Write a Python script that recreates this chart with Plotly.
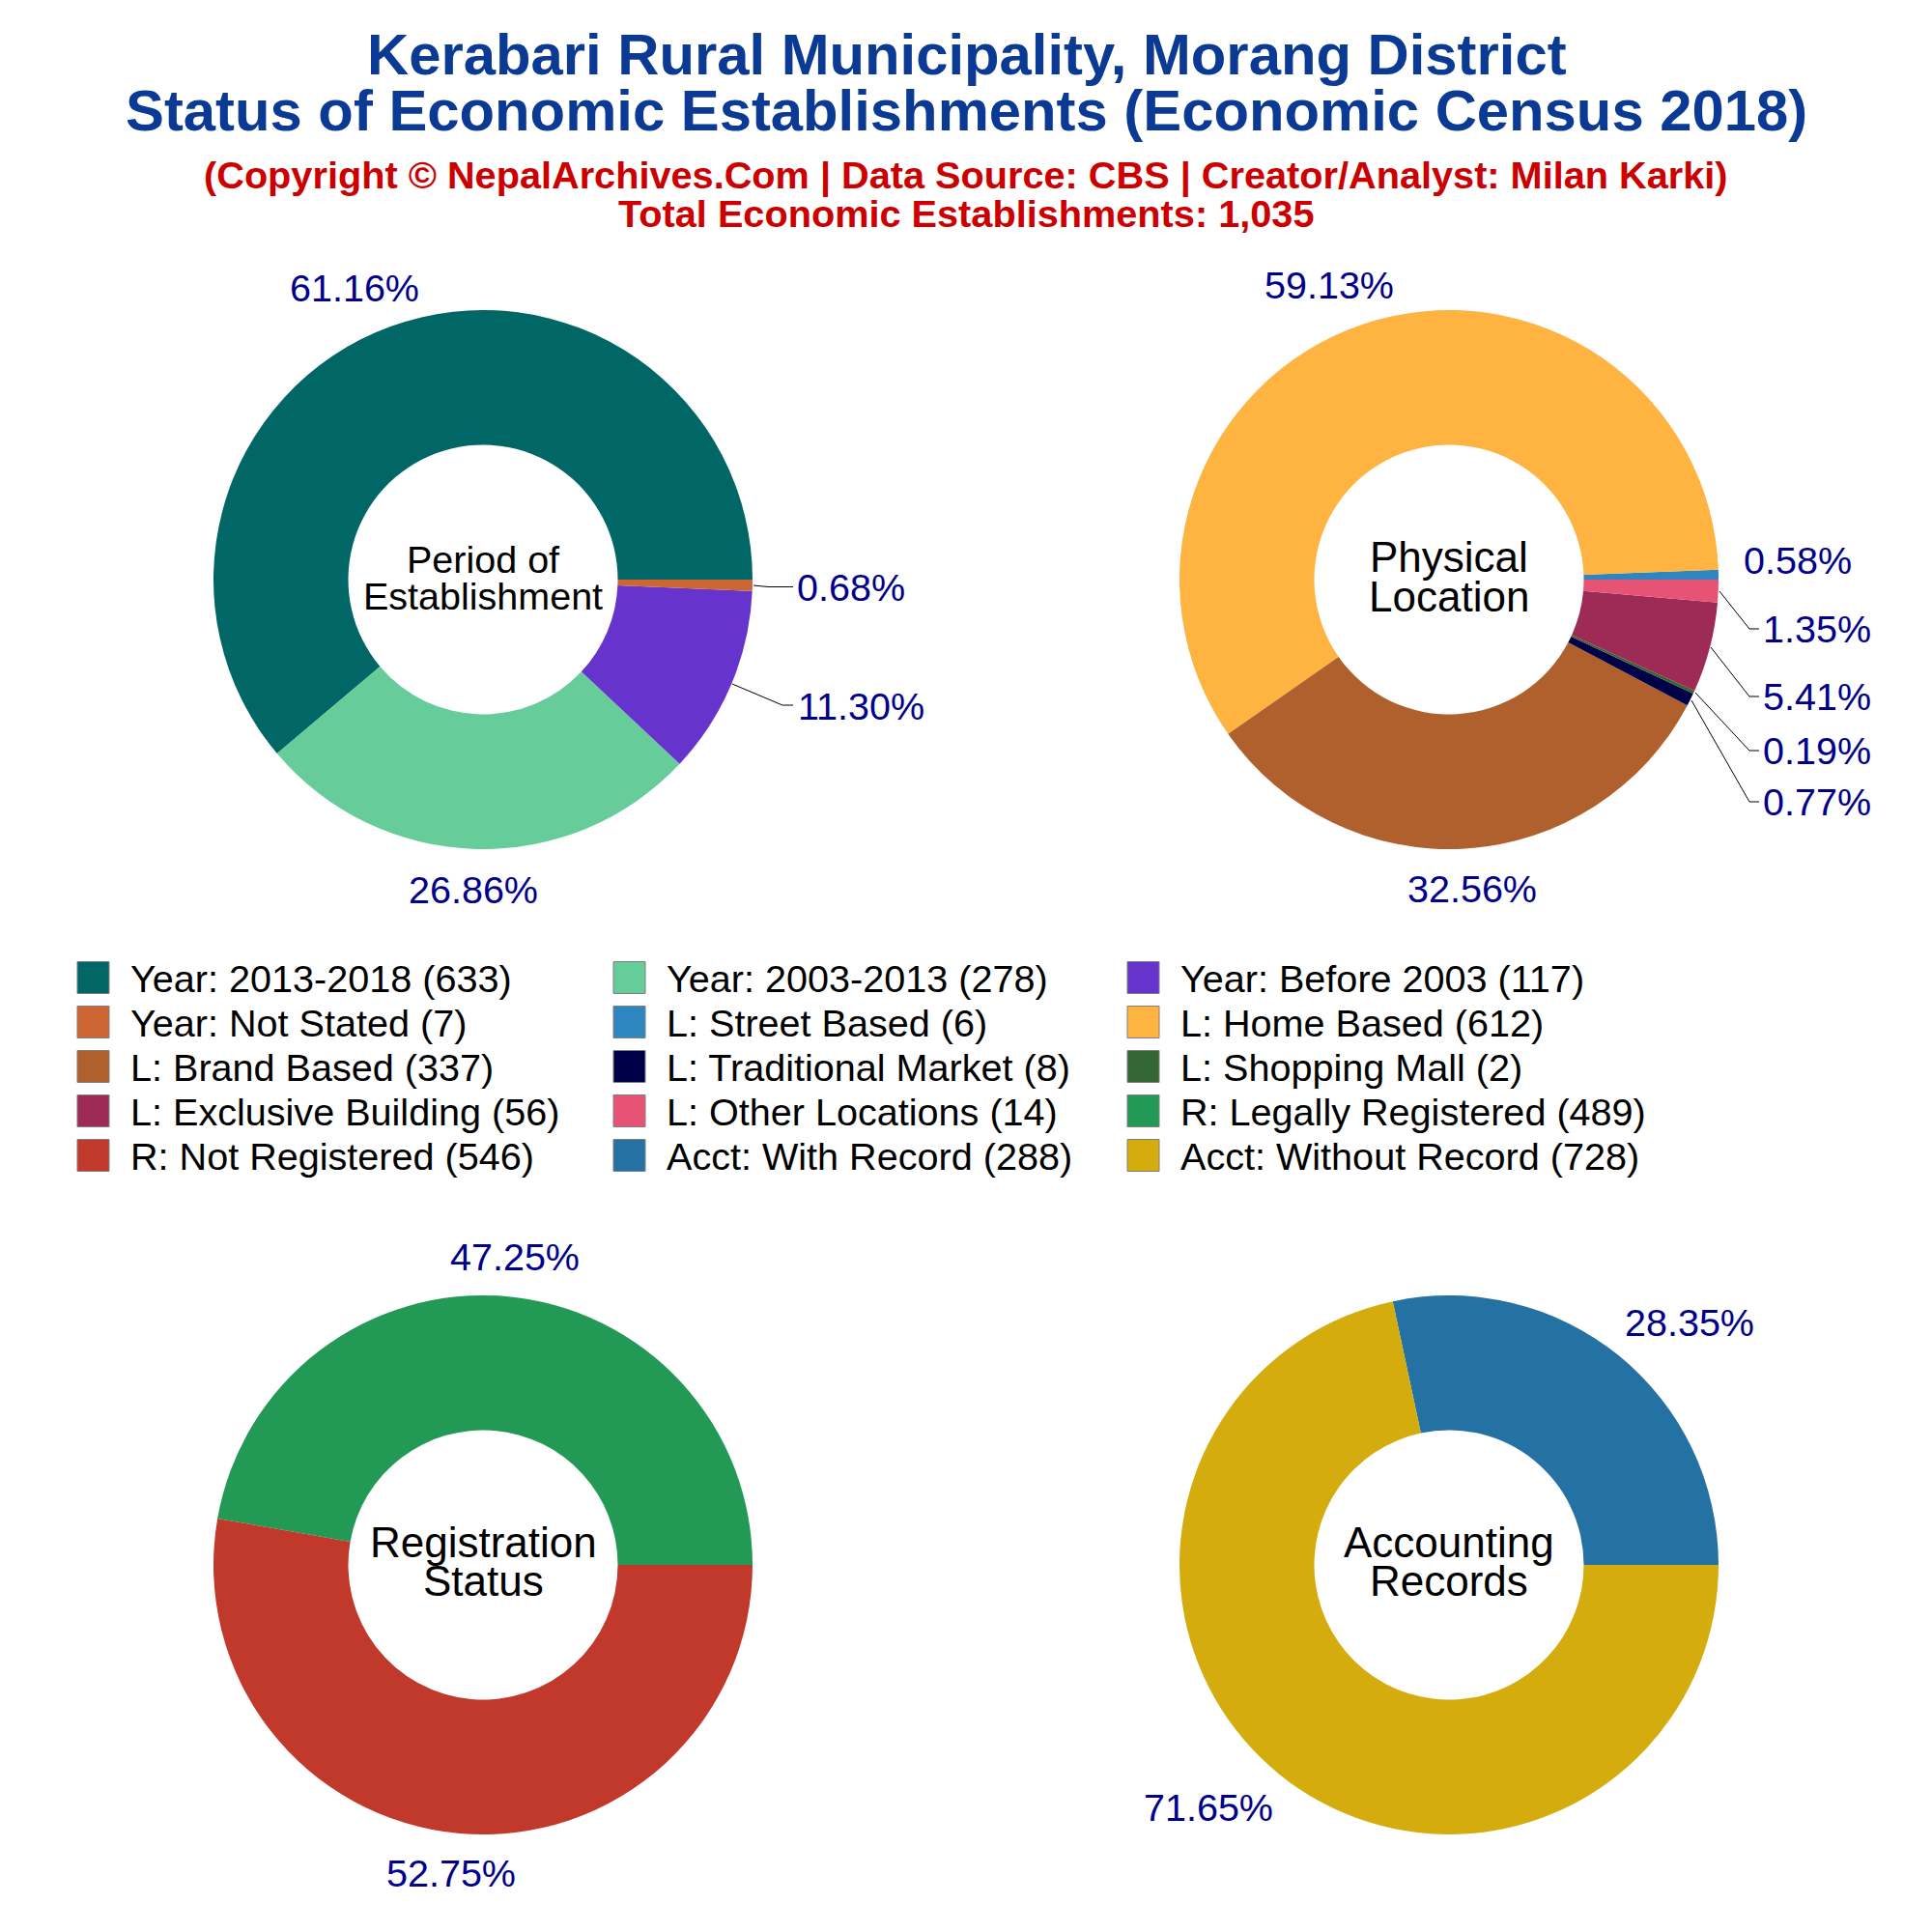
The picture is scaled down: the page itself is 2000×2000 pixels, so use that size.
import plotly.graph_objects as go

title_lines = ["Kerabari Rural Municipality, Morang District",
               "Status of Economic Establishments (Economic Census 2018)"]
sub_lines = ["(Copyright © NepalArchives.Com | Data Source: CBS | Creator/Analyst: Milan Karki)",
             "Total Economic Establishments: 1,035"]

period_labels = ["Year: 2013-2018", "Year: 2003-2013", "Year: Before 2003", "Year: Not Stated"]
period_values = [633, 278, 117, 7]
period_colors = ["#006666", "#66CC99", "#6633CC", "#CC6633"]

location_labels = ["L: Street Based", "L: Home Based", "L: Brand Based", "L: Traditional Market",
                   "L: Shopping Mall", "L: Exclusive Building", "L: Other Locations"]
location_values = [6, 612, 337, 8, 2, 56, 14]
location_colors = ["#2E86C1", "#FFB340", "#B0602C", "#000048", "#336633", "#9E2A56", "#E75374"]

registration_labels = ["R: Legally Registered", "R: Not Registered"]
registration_values = [489, 546]
registration_colors = ["#229955", "#C0392B"]

account_labels = ["Acct: With Record", "Acct: Without Record"]
account_values = [288, 728]
account_colors = ["#2471A3", "#D4AC0D"]

W = H = 2000
R = 279
def X(p): return p / W
def Y(p): return 1 - p / H

fig = go.Figure()
centres = [(500, 600), (1500, 600), (500, 1620), (1500, 1620)]
groups = [(period_labels, period_values, period_colors),
          (location_labels, location_values, location_colors),
          (registration_labels, registration_values, registration_colors),
          (account_labels, account_values, account_colors)]
for (cx, cy), (lab, val, col) in zip(centres, groups):
    # Plotly lays the first slice clockwise of the start angle when running counterclockwise,
    # so turn the pie back by that slice to start it at 3 o'clock.
    fig.add_trace(go.Pie(labels=lab, values=val, hole=0.5, sort=False, direction="counterclockwise",
                         rotation=90 - 360 * val[0] / sum(val),
                         marker=dict(colors=col, line=dict(width=0)),
                         textinfo="none", showlegend=False,
                         domain=dict(x=[X(cx - R), X(cx + R)], y=[Y(cy + R), Y(cy - R)])))

ann = []
def text(x, y, s, size, color="black", bold=False, anchor="center"):
    ann.append(dict(x=X(x), y=Y(y), xref="paper", yref="paper", text=f"<b>{s}</b>" if bold else s,
                    showarrow=False, xanchor=anchor, yanchor="middle",
                    font=dict(family="Liberation Sans", size=size, color=color)))

TITLE = "#0A3A94"
RED = "#CC0000"
text(1001, 57, title_lines[0], 59.8, TITLE, True)
text(1001, 115, title_lines[1], 59.8, TITLE, True)
text(1000, 182, sub_lines[0], 39.7, RED, True)
text(1000, 221, sub_lines[1], 39.7, RED, True)

centre_text = [(500, 579, "Period of", 39.5), (500, 617, "Establishment", 39.5),
               (1500, 576, "Physical", 44), (1500, 617, "Location", 44),
               (500, 1596, "Registration", 44), (500, 1636, "Status", 44),
               (1500, 1596, "Accounting", 44), (1500, 1636, "Records", 44)]
for x, y, s, size in centre_text:
    text(x, y, s, size)

def pct(v, values): return f"{100 * v / sum(values):.2f}%"
NAVY = "#00008B"
label_pos = [
    (period_values, [(367, 298), (490, 921), (891, 731), (881, 608)]),
    (location_values, [(1861, 580), (1376, 295), (1524, 920), (1881, 830), (1881, 777), (1881, 721), (1881, 651)]),
    (registration_values, [(533, 1301), (467, 1939)]),
    (account_values, [(1749, 1369), (1251, 1871)]),
]
for vals, pos in label_pos:
    for v, (x, y) in zip(vals, pos):
        text(x, y, pct(v, vals), 39.5, NAVY)

leaders = [
    [(780, 606), (795, 607.5), (821, 607.5)],
    [(758, 708), (810, 730), (821, 730)],
    [(1780, 612), (1811, 651), (1821, 651)],
    [(1771, 670), (1811, 721), (1821, 721)],
    [(1755, 717), (1811, 777), (1821, 777)],
    [(1751, 725), (1811, 830), (1821, 830)],
]
shapes = []
for pts in leaders:
    path = "M" + " L".join(f"{X(a)},{Y(b)}" for a, b in pts)
    shapes.append(dict(type="path", xref="paper", yref="paper", path=path,
                       line=dict(color="black", width=1)))

# legend, row by row
legend_labels = period_labels + location_labels + registration_labels + account_labels
legend_values = period_values + location_values + registration_values + account_values
legend_colors = period_colors + location_colors + registration_colors + account_colors
col_x = [80, 635, 1167]
text_x = [132.5, 687.5, 1220]
row_y = [1012.5, 1058.5, 1104.5, 1150.5, 1196.5]
for i, (lab, val, col) in enumerate(zip(legend_labels, legend_values, legend_colors)):
    r, c = i // 3, i % 3
    shapes.append(dict(type="rect", xref="paper", yref="paper",
                       x0=X(col_x[c]), x1=X(col_x[c] + 33), y0=Y(row_y[r] - 17), y1=Y(row_y[r] + 16),
                       fillcolor=col, line=dict(color="#808080", width=1)))
    text(text_x[c], row_y[r], f"{lab} ({val})", 39.6, anchor="left")

fig.update_layout(width=W, height=H, margin=dict(l=0, r=0, t=0, b=0), paper_bgcolor="white",
                  plot_bgcolor="white", annotations=ann, shapes=shapes, showlegend=False)
fig.write_html("out.html", config={"displayModeBar": False},
               post_script="document.body.style.margin='0';")
